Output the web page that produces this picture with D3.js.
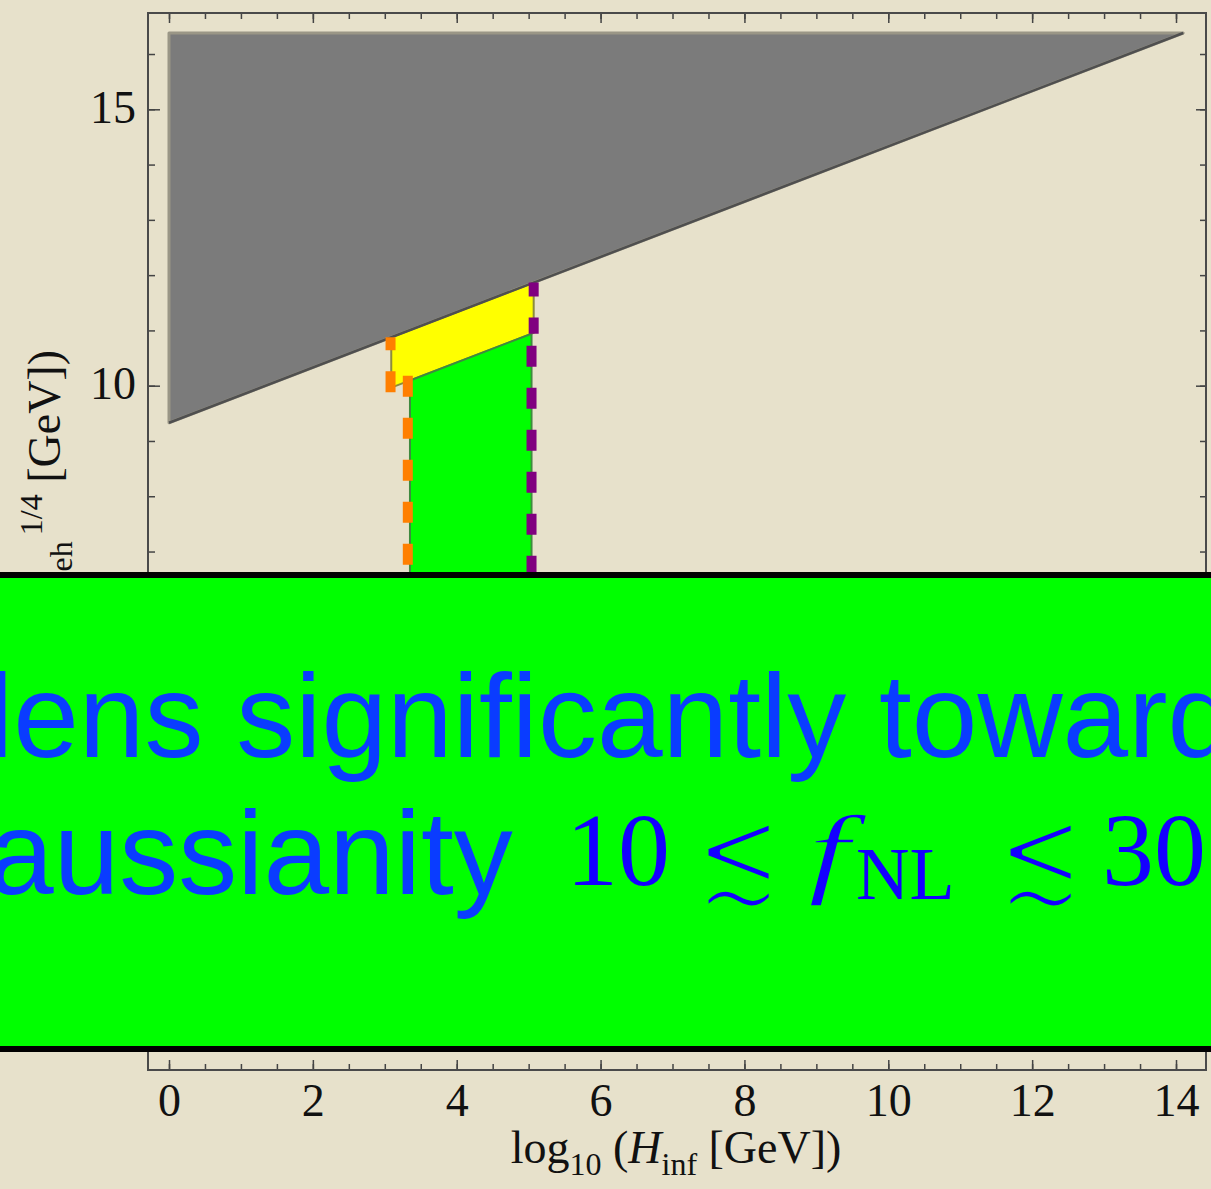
<!DOCTYPE html>
<html>
<head>
<meta charset="utf-8">
<script src="https://cdn.jsdelivr.net/npm/d3@7"></script>
<style>
  html, body { margin: 0; padding: 0; background: #e7e1cb; }
  svg { display: block; }
</style>
</head>
<body>
<svg id="chart" width="1211" height="1189"></svg>
<script>
// plot data (log10 units)
const xDomain = [-0.292, 14.417];
const yDomain = [-2.379, 16.742];
const xMajorTicks = [0, 2, 4, 6, 8, 10, 12, 14];
const xMinorTicks = d3.range(0, 14.5, 0.5);
const yMajorTicks = [0, 5, 10, 15];
const yMinorTicks = d3.range(-2, 17, 1);

// excluded (gray) triangle
const grayRegion = [[0, 16.38], [14.1, 16.38], [0, 9.33]];
const grayEdge = [[0, 9.33], [14.1, 16.38]];
// yellow band between the two sloped lines
const yellowRegion = [[3.09, 10.875], [5.07, 11.865], [5.07, 10.955], [3.09, 9.965]];
// green allowed region (lower part hidden by the banner)
const greenRegion = [[3.35, 10.095], [5.04, 10.94], [5.04, 3], [3.35, 3]];
// dashed boundaries
const orangeUpper = [[3.08, 10.875], [3.08, 9.87]];
const orangeLower = [[3.32, 10.18], [3.32, 3]];
const purpleUpper = [[5.07, 11.865], [5.07, 10.94]];
const purpleLower = [[5.04, 10.94], [5.04, 3]];

const svg = d3.select("#chart");

const x = d3.scaleLinear().domain(xDomain).range([148, 1206]);
const y = d3.scaleLinear().domain(yDomain).range([1070, 13]);

const line = d3.line().x(d => x(d[0])).y(d => y(d[1]));

// regions
svg.append("path")
    .attr("d", line(grayRegion) + "Z")
    .attr("fill", "#7b7b7b")
    .attr("stroke", "#9a9686")
    .attr("stroke-width", 3)
    .attr("stroke-linejoin", "round");

svg.append("path")
    .attr("d", line(yellowRegion) + "Z")
    .attr("fill", "#ffff00")
    .attr("stroke", "#8c8c3c")
    .attr("stroke-width", 2);

svg.append("path")
    .attr("d", line(greenRegion) + "Z")
    .attr("fill", "#00ff00")
    .attr("stroke", "#3f8a3f")
    .attr("stroke-width", 2);

svg.append("path")
    .attr("d", line(grayEdge))
    .attr("fill", "none")
    .attr("stroke", "#4f4f4f")
    .attr("stroke-width", 2.5);

// dashed lines
function dashed(pts, color, offset) {
    svg.append("path")
        .attr("d", line(pts))
        .attr("fill", "none")
        .attr("stroke", color)
        .attr("stroke-width", 10)
        .attr("stroke-dasharray", "21,21")
        .attr("stroke-dashoffset", offset);
}
dashed(orangeUpper, "#ff7f00", 8);
dashed(orangeLower, "#ff7f00", 0);
dashed(purpleUpper, "#800080", 7);
dashed(purpleLower, "#800080", 30);

// axes (ticks point inward)
const tickFont = "Liberation Serif, Times New Roman, serif";
function styleAxis(g) {
    g.select(".domain").remove();
    g.selectAll("line").attr("stroke", "#444").attr("stroke-width", 1.5);
    g.selectAll("text").attr("font-family", tickFont).attr("font-size", 46).attr("fill", "#111");
}

svg.append("g").attr("transform", `translate(0,${y.range()[0]})`)
    .call(d3.axisBottom(x).tickValues(xMinorTicks).tickSize(-6).tickFormat(""))
    .call(styleAxis);
svg.append("g").attr("transform", `translate(0,${y.range()[0]})`)
    .call(d3.axisBottom(x).tickValues(xMajorTicks).tickSize(-10).tickPadding(13).tickFormat(d3.format("d")))
    .call(styleAxis);
svg.append("g").attr("transform", `translate(0,${y.range()[1]})`)
    .call(d3.axisTop(x).tickValues(xMinorTicks).tickSize(-6).tickFormat(""))
    .call(styleAxis);
svg.append("g").attr("transform", `translate(0,${y.range()[1]})`)
    .call(d3.axisTop(x).tickValues(xMajorTicks).tickSize(-10).tickFormat(""))
    .call(styleAxis);

svg.append("g").attr("transform", `translate(${x.range()[0]},0)`)
    .call(d3.axisLeft(y).tickValues(yMinorTicks).tickSize(-7).tickFormat(""))
    .call(styleAxis);
svg.append("g").attr("transform", `translate(${x.range()[0]},0)`)
    .call(d3.axisLeft(y).tickValues(yMajorTicks).tickSize(-12).tickPadding(12).tickFormat(d3.format("d")))
    .call(styleAxis)
    .selectAll("text").attr("dy", "0.28em");
svg.append("g").attr("transform", `translate(${x.range()[1]},0)`)
    .call(d3.axisRight(y).tickValues(yMinorTicks).tickSize(-6).tickFormat(""))
    .call(styleAxis);
svg.append("g").attr("transform", `translate(${x.range()[1]},0)`)
    .call(d3.axisRight(y).tickValues(yMajorTicks).tickSize(-10).tickFormat(""))
    .call(styleAxis);

// frame
svg.append("rect")
    .attr("x", x.range()[0]).attr("y", y.range()[1])
    .attr("width", x.range()[1] - x.range()[0])
    .attr("height", y.range()[0] - y.range()[1])
    .attr("fill", "none")
    .attr("stroke", "#4a4a4a")
    .attr("stroke-width", 2);

// axis labels
const xLabel = svg.append("text")
    .attr("x", 676).attr("y", 1163)
    .attr("text-anchor", "middle")
    .attr("font-family", tickFont).attr("font-size", 46).attr("fill", "#111");
xLabel.append("tspan").text("log");
xLabel.append("tspan").attr("font-size", 32).attr("dy", 12).text("10");
xLabel.append("tspan").attr("dy", -12).text(" (");
xLabel.append("tspan").attr("font-style", "italic").text("H");
xLabel.append("tspan").attr("font-size", 32).attr("dy", 12).text("inf");
xLabel.append("tspan").attr("dy", -12).text(" [GeV])");

const yLabel = svg.append("text")
    .attr("transform", "translate(60,350) rotate(-90)")
    .attr("text-anchor", "end")
    .attr("font-family", tickFont).attr("font-size", 46).attr("fill", "#111");
yLabel.append("tspan").text("log");
yLabel.append("tspan").attr("font-size", 32).attr("dy", 12).text("10");
yLabel.append("tspan").attr("dy", -12).text(" (");
yLabel.append("tspan").attr("font-style", "italic").text("ρ");
yLabel.append("tspan").attr("font-size", 32).attr("dy", 12).text("eh");
yLabel.append("tspan").attr("font-size", 32).attr("dy", -30).attr("dx", 6).text("1/4");
yLabel.append("tspan").attr("dy", 18).text(" [GeV])");

// overlay banner
svg.append("rect")
    .attr("x", 0).attr("y", 572).attr("width", 1211).attr("height", 480)
    .attr("fill", "#000");
svg.append("rect")
    .attr("x", 0).attr("y", 578).attr("width", 1211).attr("height", 468)
    .attr("fill", "#00ff00");

const sans = "Liberation Sans, Arial, Helvetica, sans-serif";
svg.append("text")
    .attr("x", -13).attr("y", 757)
    .attr("font-family", sans).attr("font-size", 118).attr("fill", "#0a3cff")
    .text("lens significantly towards");
svg.append("text")
    .attr("x", -12).attr("y", 894)
    .attr("font-family", sans).attr("font-size", 118).attr("fill", "#0a3cff")
    .text("aussianity");

const mathColor = "#1400ff";
function mathText(txt, xPos, yPos, size, family, sx, sy, style, thin) {
    const t = svg.append("text")
        .attr("transform", `translate(${xPos},${yPos}) scale(${sx},${sy})`)
        .attr("font-family", family).attr("font-size", size)
        .attr("font-style", style || "normal")
        .attr("fill", mathColor)
        .text(txt);
    // thin heavy glyphs by eroding them with the banner colour
    if (thin) t.attr("stroke", "#00ff00").attr("stroke-width", thin).attr("stroke-linejoin", "round");
    return t;
}
mathText("10", 566, 885, 104, tickFont, 1, 1);
mathText("≲", 695, 903, 104, "DejaVu Sans", 1, 1.35, "normal", 5);
mathText("f", 808, 885, 100, tickFont, 1.5, 1, "italic", 1.5);
mathText("NL", 856, 899, 74, tickFont, 1, 1);
mathText("≲", 997, 903, 104, "DejaVu Sans", 1, 1.35, "normal", 5);
mathText("30", 1102, 885, 104, tickFont, 1, 1);
</script>
</body>
</html>
